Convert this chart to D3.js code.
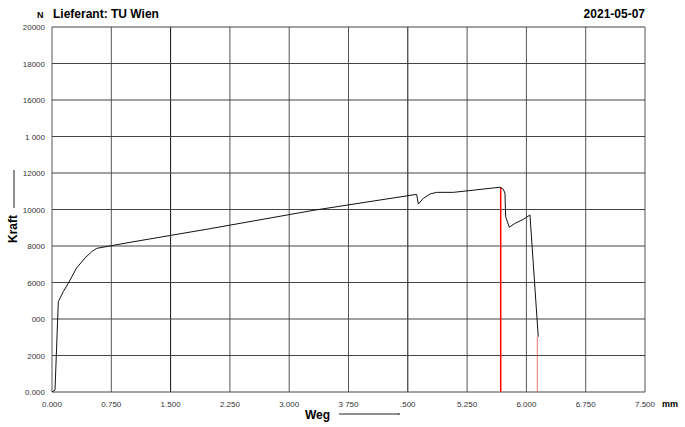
<!DOCTYPE html>
<html>
<head>
<meta charset="utf-8">
<script src="https://cdn.jsdelivr.net/npm/d3@7"></script>
<style>
  body { margin: 0; background: #fff; }
  text { font-family: "Liberation Sans", Arial, sans-serif; }
</style>
</head>
<body>
<div id="chart"></div>
<script>
// curve: Weg in mm, Kraft in N
const weg = [0, 0.038, 0.08, 0.143, 0.206, 0.312, 0.417, 0.502, 0.565, 0.755, 0.986, 2.0, 3.3, 4.148, 4.612,
  4.633, 4.696, 4.781, 4.865, 5.075, 5.666, 5.708, 5.729, 5.738, 5.784, 5.856, 5.961, 6.045, 6.15];
const kraft = [0, 110, 4950, 5500, 5960, 6800, 7340, 7690, 7870, 8020, 8200, 8950, 9950, 10520, 10830,
  10300, 10610, 10850, 10940, 10940, 11220, 11110, 10890, 9600, 9030, 9240, 9460, 9700, 3030];
const xTicks = [0, 0.75, 1.5, 2.25, 3.0, 3.75, 4.5, 5.25, 6.0, 6.75, 7.5];
const xTickLabels = ['0.000', '0.750', '1.500', '2.250', '3.000', '3 750', '.500', '5.250', '6.000', '6.750', '7.500'];
const yTicks = [0, 2000, 4000, 6000, 8000, 10000, 12000, 14000, 16000, 18000, 20000];
const yTickLabels = ['0.000', '2000', '000', '6000', '8000', '10000', '12000', '1 000', '16000', '18000', '20000'];
const markers = [{ x: 5.675, y: 11220, w: 1.5, c: '#ff0000' }, { x: 6.138, y: 3030, w: 0.8, c: '#f05050' }];

const width = 685, height = 427;
const margin = { top: 27, right: 40, bottom: 35, left: 52 };

const svg = d3.select('#chart').append('svg')
  .attr('width', width).attr('height', height);

const x = d3.scaleLinear().domain([0, 7.5]).range([margin.left, width - margin.right]);
const y = d3.scaleLinear().domain([0, 20000]).range([height - margin.bottom, margin.top]);

// grid
const darkX = [1.5, 4.5];
svg.append('g').selectAll('line').data(xTicks).enter().append('line')
  .attr('x1', d => x(d)).attr('x2', d => x(d))
  .attr('y1', y(0)).attr('y2', y(20000))
  .attr('stroke', d => darkX.includes(d) ? '#111' : '#555')
  .attr('stroke-width', 1);
svg.append('g').selectAll('line').data(yTicks).enter().append('line')
  .attr('x1', x(0)).attr('x2', x(7.5))
  .attr('y1', d => y(d)).attr('y2', d => y(d))
  .attr('stroke', '#444').attr('stroke-width', 1);

// tick labels
svg.append('g').selectAll('text').data(yTicks).enter().append('text')
  .attr('x', margin.left - 7).attr('y', d => y(d) + 3)
  .attr('text-anchor', 'end').attr('font-size', 8).attr('fill', '#333')
  .text((d, i) => yTickLabels[i]);
svg.append('g').selectAll('text').data(xTicks).enter().append('text')
  .attr('x', d => x(d)).attr('y', y(0) + 15)
  .attr('text-anchor', 'middle').attr('font-size', 8).attr('fill', '#333')
  .text((d, i) => xTickLabels[i]);

// markers
svg.append('g').selectAll('line').data(markers).enter().append('line')
  .attr('x1', d => x(d.x)).attr('x2', d => x(d.x))
  .attr('y1', d => y(d.y)).attr('y2', y(0))
  .attr('stroke', d => d.c).attr('stroke-width', d => d.w);

// curve
const pts = weg.map((d, i) => [d, kraft[i]]);
svg.append('path').datum(pts)
  .attr('fill', 'none').attr('stroke', '#111').attr('stroke-width', 1)
  .attr('d', d3.line().x(d => x(d[0])).y(d => y(d[1])));

// titles
svg.append('text').attr('x', 37).attr('y', 18).attr('font-size', 9).attr('font-weight', 'bold').text('N');
svg.append('text').attr('x', 53).attr('y', 18).attr('font-size', 12).attr('font-weight', 'bold').text('Lieferant: TU Wien');
svg.append('text').attr('x', x(7.5)).attr('y', 18).attr('text-anchor', 'end')
  .attr('font-size', 12).attr('font-weight', 'bold').text('2021-05-07');
svg.append('text').attr('x', 662).attr('y', y(0) + 15).attr('font-size', 9).attr('font-weight', 'bold').text('mm');

// axis names with arrows
svg.append('text').attr('x', 305).attr('y', 419).attr('font-size', 12).attr('font-weight', 'bold').text('Weg');
svg.append('line').attr('x1', 339).attr('x2', 399).attr('y1', 414).attr('y2', 414).attr('stroke', '#222').attr('stroke-width', 1);
svg.append('line').attr('x1', 399).attr('x2', 399).attr('y1', 413).attr('y2', 415).attr('stroke', '#222').attr('stroke-width', 1);
svg.append('text').attr('transform', 'translate(17,229) rotate(-90)').attr('text-anchor', 'middle')
  .attr('font-size', 12).attr('font-weight', 'bold').text('Kraft');
svg.append('line').attr('x1', 14).attr('x2', 14).attr('y1', 170).attr('y2', 208).attr('stroke', '#222').attr('stroke-width', 1);
</script>
</body>
</html>
